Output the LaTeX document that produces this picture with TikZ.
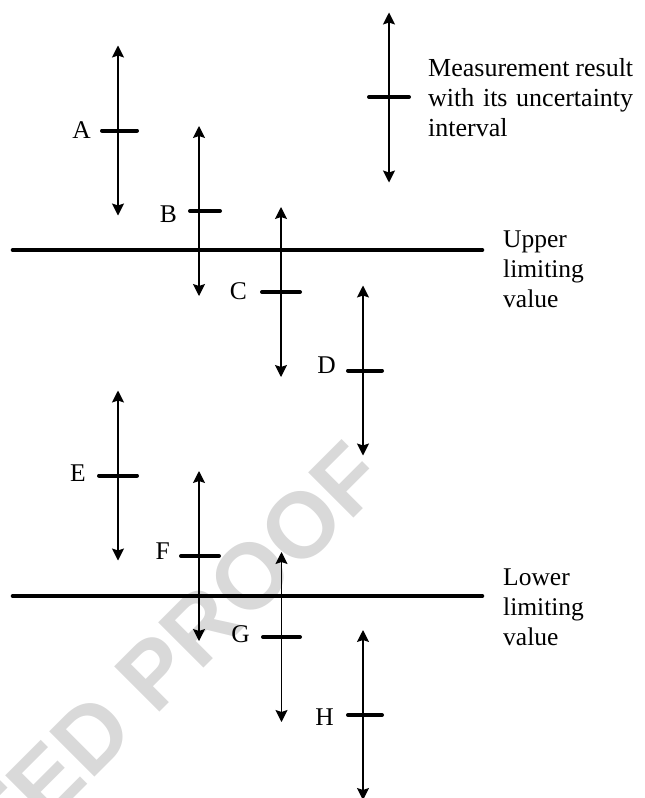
\documentclass[tikz,border=0pt]{standalone}
\usepackage{fontspec}
\setmainfont{Liberation Serif}
\newfontfamily\wmfont{Liberation Sans}
\usetikzlibrary{arrows.meta}
\begin{document}
\begin{tikzpicture}[x=1pt,y=-1pt,
  interval/.style={line width=1.2pt, {Stealth[length=12pt,width=12pt,inset=2pt]}-{Stealth[length=12pt,width=12pt,inset=2pt]}},
  resbar/.style={line width=4pt, line cap=round},
  limitline/.style={line width=4.6pt, line cap=round},
  lbl/.style={font=\fontsize{25.5}{30}\selectfont, inner sep=0pt},
  legendtext/.style={font=\fontsize{26}{30}\selectfont, inner sep=0pt},
  watermark/.style={text=black!15, inner sep=0pt, font=\wmfont\bfseries\fontsize{93}{93}\selectfont, rotate=45}
]
\useasboundingbox (0,0) rectangle (645,798);
\begin{scope}
  \clip (0,0) rectangle (645,798);
  \node[watermark, anchor=base east] (wm) at (390,482) {CORRECTED PROOF};
\end{scope}

% limiting values
\coordinate (U1) at (13,250);
\coordinate (U2) at (482,250);
\coordinate (L1) at (13,596);
\coordinate (L2) at (482,596);
\draw[limitline] (U1) -- (U2);
\draw[limitline] (L1) -- (L2);
\node[lbl, anchor=north west, align=left] (upper) at (503,231) {Upper\\limiting\\value};
\node[lbl, anchor=north west, align=left] (lower) at (503,569) {Lower\\limiting\\value};

% measurement results
\foreach \n/\x/\y/\bl/\br/\lx/\ly in {
  A/118/130.5/100/139/91/130.5,
  B/199/211/188/222/177/214.5,
  C/281/292/260/302/247/291.5,
  D/363/370.5/346/384/336/365.5,
  E/118/475.5/97/139/86/473.5,
  F/199/556/179/221/170/551.5,
  G/281.5/637/261/302/250/634,
  H/363/715/346/384/334/717}
{
  \coordinate (\n-t) at (\x,\y-85);
  \coordinate (\n-b) at (\x,\y+85);
  \coordinate (\n-l) at (\bl+2,\y);
  \coordinate (\n-r) at (\br-2,\y);
  \draw[interval] (\n-t) -- (\n-b);
  \draw[resbar] (\n-l) -- (\n-r);
  \node[lbl, anchor=east] (\n-lab) at (\lx,\ly) {\n};
}

% legend
\coordinate (K-t) at (389,12.5);
\coordinate (K-b) at (389,182.5);
\coordinate (K-l) at (369,97);
\coordinate (K-r) at (409,97);
\draw[interval] (K-t) -- (K-b);
\draw[resbar] (K-l) -- (K-r);
\node[legendtext, anchor=north west, align=left] (legend) at (428,58)
  {\hbox to 205pt{Measurement\hfill result}\\
   \hbox to 205pt{with\hfill its\hfill uncertainty}\\
   interval};
\end{tikzpicture}
\end{document}
